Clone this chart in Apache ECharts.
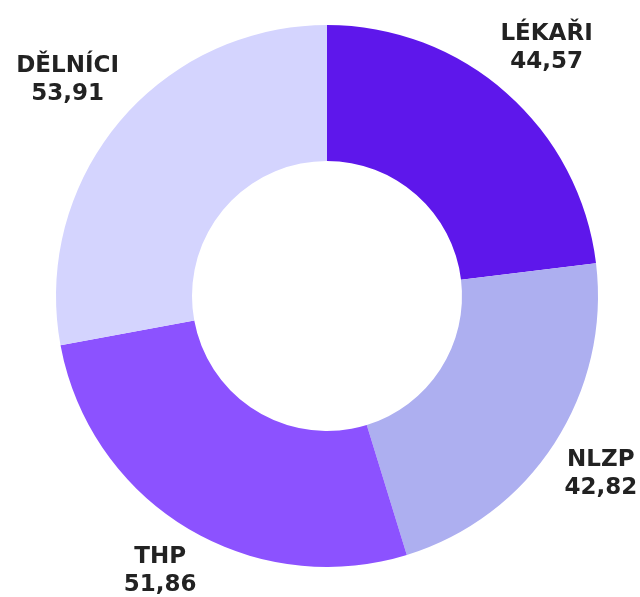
<!DOCTYPE html>
<html>
<head>
<meta charset="utf-8">
<script src="https://cdn.jsdelivr.net/npm/echarts@6/dist/echarts.min.js"></script>
<style>
  html, body { margin: 0; padding: 0; background: #fff; }
  #chart { width: 640px; height: 597px; }
</style>
</head>
<body>
<div id="chart"></div>
<script>
const categories = ['LÉKAŘI', 'NLZP', 'THP', 'DĚLNÍCI']
const values = [44.57, 42.82, 51.86, 53.91]
const colors = ['#5e17eb', '#adaff0', '#8c52ff', '#d4d4fe']

const CX = 327
const CY = 296
// gap from the pie centre to the nearest corner of each label box
const LABEL_GAP = 282

const chart = echarts.init(document.getElementById('chart'))

const fmt = (v) => v.toFixed(2).replace('.', ',')

// push every label out along its own ray until the nearest corner sits at LABEL_GAP
const placeLabel = (params) => {
  const r = params.labelRect
  const lx = r.x + r.width / 2
  const ly = r.y + r.height / 2
  const len = Math.hypot(lx - CX, ly - CY) || 1
  const ux = (lx - CX) / len
  const uy = (ly - CY) / len
  const sx = Math.sign(ux) * r.width / 2
  const sy = Math.sign(uy) * r.height / 2
  const us = ux * sx + uy * sy
  const t = us + Math.sqrt(us * us - (sx * sx + sy * sy) + LABEL_GAP * LABEL_GAP)
  return {
    x: CX + t * ux,
    y: CY + t * uy,
    align: 'center',
    verticalAlign: 'middle',
  }
}

chart.setOption({
  animation: false,
  series: [
    {
      name: 'slices',
      type: 'pie',
      center: [CX, CY],
      radius: [135, 271],
      startAngle: 90,
      clockwise: true,
      silent: true,
      label: { show: false },
      labelLine: { show: false },
      itemStyle: { borderWidth: 0 },
      data: categories.map((name, i) => ({
        name,
        value: values[i],
        itemStyle: { color: colors[i] },
      })),
    },
    {
      // transparent ring, only used to carry the labels
      name: 'labels',
      type: 'pie',
      center: [CX, CY],
      radius: [300, 360],
      startAngle: 90,
      clockwise: true,
      silent: true,
      itemStyle: { color: 'rgba(0,0,0,0)', borderWidth: 0 },
      labelLine: { show: false },
      label: {
        show: true,
        position: 'inside',
        formatter: (p) => '{a|' + p.name + '}\n{a|' + fmt(p.value) + '}',
        rich: {
          a: {
            fontFamily: '"DejaVu Sans", sans-serif',
            fontWeight: 'bold',
            fontSize: 23,
            lineHeight: 28,
            color: '#222',
            align: 'center',
          },
        },
      },
      labelLayout: placeLabel,
      data: categories.map((name, i) => ({ name, value: values[i] })),
    },
  ],
})
</script>
</body>
</html>
